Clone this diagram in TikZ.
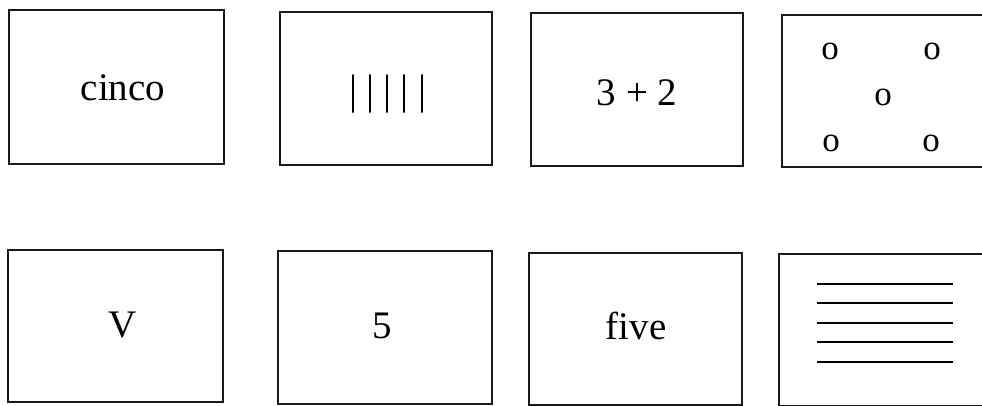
\documentclass[tikz,border=0pt]{standalone}
\usepackage{fontspec}
\setmainfont{Liberation Serif}
\begin{document}
\begin{tikzpicture}[x=1pt,y=-1pt,
  card/.style={draw=black!90, line width=2.2pt, rectangle, inner sep=0pt},
  word/.style={anchor=base, inner sep=0pt, font=\fontsize{39}{41}\selectfont},
  dot/.style={anchor=base, inner sep=0pt, font=\fontsize{35}{37}\selectfont},
  mark line/.style={line width=2pt, line cap=round}]
\useasboundingbox (0,0) rectangle (982,405);
% row 1
\node[card, minimum width=215pt, minimum height=154pt] (b1) at (116.5,87) {};
\node[card, minimum width=212pt, minimum height=153pt] (b2) at (386,88.5) {};
\node[card, minimum width=212pt, minimum height=153pt] (b3) at (637,89.5) {};
\node[card, minimum width=212pt, minimum height=152pt] (b4) at (888,91) {};
% row 2
\node[card, minimum width=215pt, minimum height=152pt] (c1) at (115.5,326) {};
\node[card, minimum width=214pt, minimum height=153pt] (c2) at (385,327.5) {};
\node[card, minimum width=213pt, minimum height=152pt] (c3) at (635.5,329) {};
\node[card, minimum width=212pt, minimum height=152pt] (c4) at (885,330) {};
% texts
\node[word] (t1) at (123,100) {cinco};
\node[word] (t3) at (637,105) {3 + 2};
\node[word] (t5) at (123,337) {V};
\node[word] (t6) at (382,338) {5};
\node[word] (t7) at (636,339) {five};
% tally marks
\foreach \i/\xx in {1/353,2/370,3/387,4/404,5/422}{
  \coordinate (ta\i) at (\xx,75);
  \coordinate (tb\i) at (\xx,112);
  \draw[mark line] (ta\i) -- (tb\i);
}
% dots (o)
\node[dot] (o1) at (830,59) {o};
\node[dot] (o2) at (932,59) {o};
\node[dot] (o3) at (883,105) {o};
\node[dot] (o4) at (831,151) {o};
\node[dot] (o5) at (931,151) {o};
% five lines
\foreach \i/\yy in {1/284,2/303,3/323,4/342,5/362}{
  \coordinate (la\i) at (817,\yy);
  \coordinate (lb\i) at (953,\yy);
  \draw[line width=2.2pt] (la\i) -- (lb\i);
}
\end{tikzpicture}
\end{document}
